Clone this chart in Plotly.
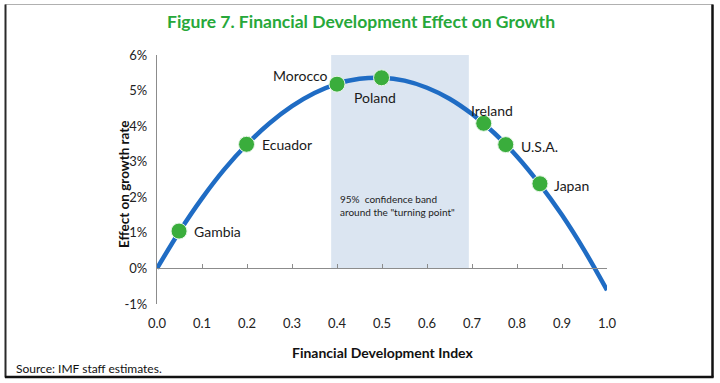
import plotly.graph_objects as go

# ---- data ----
curve_x = [0.0, 0.05, 0.10, 0.15, 0.20, 0.25, 0.30, 0.35, 0.40, 0.45, 0.50,
           0.55, 0.60, 0.65, 0.70, 0.75, 0.80, 0.85, 0.90, 0.95, 1.00]
curve_y = [0.00, 1.04, 1.97, 2.79, 3.49, 4.08, 4.56, 4.93, 5.19, 5.33, 5.36,
           5.28, 5.08, 4.77, 4.34, 3.80, 3.15, 2.38, 1.50, 0.50, -0.61]

countries = ["Gambia", "Ecuador", "Morocco", "Poland", "Ireland", "U.S.A.", "Japan"]
country_x = [0.049, 0.199, 0.400, 0.499, 0.726, 0.775, 0.851]
country_y = [1.05, 3.49, 5.18, 5.36, 4.08, 3.48, 2.38]

band_lo, band_hi = 0.387, 0.693
band_top = 6
x_ticks = [0.0, 0.1, 0.2, 0.3, 0.4, 0.5, 0.6, 0.7, 0.8, 0.9, 1.0]
x_ticklabels = ["0.0", "0.1", "0.2", "0.3", "0.4", "0.5", "0.6", "0.7", "0.8", "0.9", "1.0"]
y_ticks = [-1, 0, 1, 2, 3, 4, 5, 6]
y_ticklabels = ["-1%", "0%", "1%", "2%", "3%", "4%", "5%", "6%"]

# label placement (style): anchor, x shift, y shift in pixels
label_style = [("left", 13, 0), ("left", 13, 0), ("right", -7, 9), ("center", -7, -20),
               ("center", 8, 13), ("left", 13, -2), ("left", 12, -2)]

FONT = "Lato"
W, H = 720, 383
L, R, T, B = 157, 113, 55, 79
pw, ph = W - L - R, H - T - B


def px(xp):
    return (xp - L) / pw


def py(yp):
    return (H - B - yp) / ph


fig = go.Figure()

fig.add_trace(go.Scatter(
    x=curve_x, y=curve_y, mode="lines",
    line=dict(color="#1f6cc4", width=4.5, shape="spline"),
    hoverinfo="skip", showlegend=False,
))

fig.add_trace(go.Scatter(
    x=country_x, y=country_y, mode="markers",
    marker=dict(color="#3aad3c", size=16, line=dict(color="#e8f5e8", width=1)),
    showlegend=False, cliponaxis=False,
))

# invisible trace for overlaid axis
fig.add_trace(go.Scatter(x=[0, 1], y=[0, 0], xaxis="x2", mode="lines",
                         line=dict(width=0), hoverinfo="skip", showlegend=False))

shapes = [
    dict(type="rect", xref="x", yref="y", x0=band_lo, x1=band_hi, y0=0, y1=band_top,
         fillcolor="#dbe5f1", line=dict(width=0), layer="below"),
    # frame
    dict(type="line", xref="paper", yref="paper", x0=px(5), x1=px(713), y0=py(4.5), y1=py(4.5),
         line=dict(color="#b0b0b0", width=1)),
    dict(type="line", xref="paper", yref="paper", x0=px(5.5), x1=px(5.5), y0=py(4.5), y1=py(377.5),
         line=dict(color="#2a2a2a", width=2)),
    dict(type="line", xref="paper", yref="paper", x0=px(712.5), x1=px(712.5), y0=py(4.5), y1=py(377.5),
         line=dict(color="#111111", width=2.5)),
    dict(type="line", xref="paper", yref="paper", x0=px(5), x1=px(713.5), y0=py(377), y1=py(377),
         line=dict(color="#111111", width=2.5)),
]

annotations = [
    dict(text="<b>Figure 7. Financial Development Effect on Growth</b>", xref="paper", yref="paper",
         x=px(361), y=py(21), xanchor="center", yanchor="middle", showarrow=False,
         font=dict(family=FONT, size=17.5, color="#27a83a")),
    dict(text='95%  confidence band<br>around the "turning point"', xref="x", yref="y",
         x=0.402, y=1.78, xanchor="left", yanchor="middle", align="left", showarrow=False,
         font=dict(family=FONT, size=10, color="#222222")),
    dict(text="<b>Financial Development Index</b>", xref="paper", yref="paper",
         x=px(382), y=py(352), xanchor="center", yanchor="middle", showarrow=False,
         font=dict(family=FONT, size=14, color="#111111")),
    dict(text="<b>Effect on growth rate</b>", xref="paper", yref="paper", textangle=-90,
         x=px(124), y=py(185), xanchor="center", yanchor="middle", showarrow=False,
         font=dict(family=FONT, size=13.5, color="#111111")),
    dict(text="Source: IMF staff estimates.", xref="paper", yref="paper",
         x=px(14), y=py(368), xanchor="left", yanchor="middle", showarrow=False,
         font=dict(family=FONT, size=12, color="#111111")),
]

for name, cx, cy, (anc, dx, dy) in zip(countries, country_x, country_y, label_style):
    annotations.append(dict(
        text=name, xref="x", yref="y", x=cx, y=cy, xanchor=anc, yanchor="middle",
        xshift=dx, yshift=dy, showarrow=False,
        font=dict(family=FONT, size=14, color="#1a1a1a"),
    ))

fig.update_layout(
    width=W, height=H,
    margin=dict(l=L, r=R, t=T, b=B, pad=0),
    paper_bgcolor="white", plot_bgcolor="white",
    font=dict(family=FONT, size=12, color="#222222"),
    showlegend=False,
    shapes=shapes, annotations=annotations,
    xaxis=dict(range=[0, 1], tickvals=x_ticks, ticktext=x_ticklabels,
               showgrid=False, zeroline=False, showline=False, ticks="",
               tickfont=dict(family=FONT, size=13, color="#222222"), ticklabelstandoff=10),
    xaxis2=dict(range=[0, 1], overlaying="x", anchor="free", position=py(268.3), side="bottom",
                tickvals=x_ticks, showticklabels=False, showgrid=False, zeroline=False,
                showline=True, linecolor="#8c8c8c", linewidth=1.2,
                ticks="inside", ticklen=4, tickcolor="#8c8c8c", tickwidth=1.2),
    yaxis=dict(range=[-1, 6], tickvals=y_ticks, ticktext=y_ticklabels,
               showgrid=False, zeroline=False, showline=True, linecolor="#8c8c8c", linewidth=1.2,
               ticks="", tickfont=dict(family=FONT, size=13, color="#222222"), ticklabelstandoff=6),
)

fig.write_html(
    "out.html",
    config={"displayModeBar": False},
    post_script="document.body.style.margin='0';document.body.style.padding='0';"
                "document.body.style.overflow='hidden';",
)
